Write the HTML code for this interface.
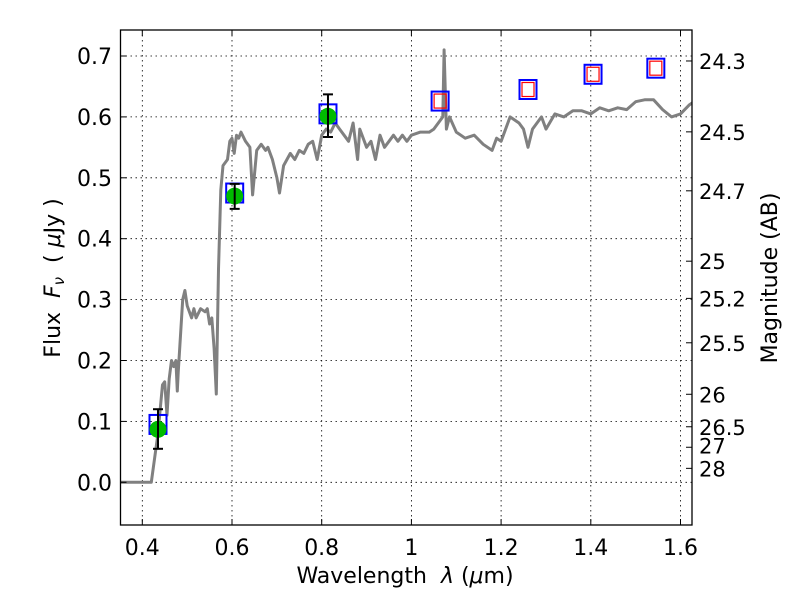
<!DOCTYPE html>
<html><head><meta charset="utf-8"><style>body{margin:0;background:#fff}svg{display:block}text{font-family:"DejaVu Sans","Liberation Sans",sans-serif;fill:#000}</style></head>
<body>
<svg id="s" width="800" height="600" xmlns="http://www.w3.org/2000/svg"></svg>
<script>
const L=120.5,R=692,T=30,B=525;
const X=l=>142.3+(l-0.4)*448.5, Y=f=>482.3-f*609;
let h='';
for(const v of [0.4,0.6,0.8,1.0,1.2,1.4,1.6]) h+=`<line x1="${X(v)}" x2="${X(v)}" y1="${T}" y2="${B}" stroke="#000" stroke-width="0.8" stroke-dasharray="1.5,3.5"/>`;
for(let i=0;i<=7;i++){const y=Y(i/10);h+=`<line x1="${L}" x2="${R}" y1="${y}" y2="${y}" stroke="#000" stroke-width="0.8" stroke-dasharray="1.5,3.5"/>`;}
const sp=[[0.35,0],[0.42,0],[0.435,0.08],[0.44,0.12],[0.445,0.16],[0.45,0.165],[0.455,0.11],[0.46,0.17],[0.465,0.2],[0.47,0.19],[0.475,0.2],[0.478,0.15],[0.48,0.18],[0.49,0.3],[0.495,0.315],[0.5,0.29],[0.51,0.27],[0.515,0.285],[0.52,0.27],[0.53,0.285],[0.54,0.28],[0.545,0.285],[0.55,0.26],[0.555,0.27],[0.56,0.22],[0.565,0.145],[0.57,0.35],[0.575,0.48],[0.58,0.52],[0.59,0.53],[0.595,0.56],[0.6,0.565],[0.605,0.54],[0.61,0.57],[0.615,0.565],[0.62,0.575],[0.63,0.56],[0.64,0.55],[0.646,0.472],[0.655,0.545],[0.665,0.555],[0.675,0.545],[0.68,0.55],[0.69,0.53],[0.7,0.5],[0.706,0.475],[0.715,0.52],[0.73,0.54],[0.74,0.53],[0.75,0.545],[0.76,0.54],[0.77,0.555],[0.78,0.56],[0.79,0.53],[0.8,0.57],[0.81,0.58],[0.82,0.575],[0.83,0.59],[0.84,0.58],[0.85,0.57],[0.86,0.56],[0.87,0.59],[0.88,0.53],[0.885,0.58],[0.9,0.55],[0.91,0.56],[0.92,0.53],[0.93,0.57],[0.94,0.55],[0.95,0.56],[0.96,0.57],[0.97,0.56],[0.98,0.57],[0.99,0.56],[1.0,0.57],[1.02,0.575],[1.04,0.575],[1.05,0.58],[1.06,0.59],[1.07,0.6],[1.073,0.71],[1.078,0.58],[1.085,0.6],[1.1,0.575],[1.12,0.565],[1.14,0.57],[1.16,0.555],[1.18,0.545],[1.19,0.565],[1.2,0.56],[1.22,0.6],[1.24,0.59],[1.25,0.58],[1.26,0.55],[1.27,0.58],[1.29,0.6],[1.3,0.58],[1.32,0.605],[1.34,0.6],[1.36,0.61],[1.38,0.61],[1.4,0.605],[1.42,0.615],[1.44,0.61],[1.46,0.615],[1.48,0.612],[1.5,0.625],[1.52,0.628],[1.54,0.628],[1.56,0.612],[1.58,0.6],[1.6,0.605],[1.62,0.62],[1.63,0.625]];
h+=`<clipPath id="c"><rect x="${L}" y="${T}" width="${R-L}" height="${B-T}"/></clipPath>`;
h+=`<polyline clip-path="url(#c)" fill="none" stroke="#808080" stroke-width="3" stroke-linejoin="round" points="${sp.map(p=>X(p[0]).toFixed(1)+','+Y(p[1]).toFixed(1)).join(' ')}"/>`;
const bs=[[0.435,0.095],[0.606,0.475],[0.814,0.605],[1.064,0.626],[1.26,0.645],[1.405,0.67],[1.545,0.68]];
for(const p of bs) h+=`<rect x="${X(p[0])-8.5}" y="${Y(p[1])-9.5}" width="17" height="19" fill="none" stroke="#0000ff" stroke-width="2"/>`;
for(const p of bs.slice(3)) h+=`<rect x="${X(p[0])-6}" y="${Y(p[1])-7}" width="12" height="14" fill="none" stroke="#ff0000" stroke-width="1.2"/>`;
const gs=[[0.435,0.087,0.055,0.12],[0.606,0.47,0.449,0.49],[0.814,0.601,0.567,0.637]];
for(const p of gs){const x=X(p[0]);h+=`<circle cx="${x}" cy="${Y(p[1])}" r="8.5" fill="#00bb00"/><line x1="${x}" x2="${x}" y1="${Y(p[2])}" y2="${Y(p[3])}" stroke="#000" stroke-width="2"/><line x1="${x-5}" x2="${x+5}" y1="${Y(p[2])}" y2="${Y(p[2])}" stroke="#000" stroke-width="2"/><line x1="${x-5}" x2="${x+5}" y1="${Y(p[3])}" y2="${Y(p[3])}" stroke="#000" stroke-width="2"/>`;}
h+=`<rect x="${L}" y="${T}" width="${R-L}" height="${B-T}" fill="none" stroke="#000" stroke-width="1.3"/>`;
const xl=['0.4','0.6','0.8','1','1.2','1.4','1.6'];
[0.4,0.6,0.8,1.0,1.2,1.4,1.6].forEach((v,i)=>{const x=X(v);h+=`<line x1="${x}" x2="${x}" y1="${B}" y2="${B-6}" stroke="#000"/><line x1="${x}" x2="${x}" y1="${T}" y2="${T+6}" stroke="#000"/><text x="${x}" y="555" font-size="22" text-anchor="middle">${xl[i]}</text>`;});
for(let i=0;i<=7;i++){const y=Y(i/10);h+=`<line x1="${L}" x2="${L+6}" y1="${y}" y2="${y}" stroke="#000"/><text x="112" y="${y+8}" font-size="22" text-anchor="end">${(i/10).toFixed(1)}</text>`;}
const mags=[[24.3,'24.3',0],[24.5,'24.5',0],[24.7,'24.7',0],[25,'25',0],[25.2,'25.2',0],[25.5,'25.5',0],[26,'26',0],[26.5,'26.5',0],[27,'27',-2],[28,'28',0]];
for(const m of mags){const y=Y(Math.pow(10,(23.9-m[0])/2.5));h+=`<line x1="${R}" x2="${R-6}" y1="${y}" y2="${y}" stroke="#000"/><text x="699" y="${y+8+m[2]}" font-size="21">${m[1]}</text>`;}
h+=`<text x="405" y="583" font-size="22" text-anchor="middle" xml:space="preserve">Wavelength  <tspan font-style="italic">λ</tspan> (<tspan font-style="italic">μ</tspan>m)</text>`;
h+=`<text transform="translate(60,278) rotate(-90)" font-size="22" text-anchor="middle" xml:space="preserve">Flux  <tspan font-style="italic">F</tspan><tspan font-style="italic" font-size="15" dy="4">ν</tspan><tspan dy="-4">  ( </tspan><tspan font-style="italic">μ</tspan>Jy )</text>`;
h+=`<text transform="translate(777,278) rotate(-90)" font-size="22" text-anchor="middle">Magnitude (AB)</text>`;
document.getElementById('s').innerHTML=h;
</script>
</body></html>
